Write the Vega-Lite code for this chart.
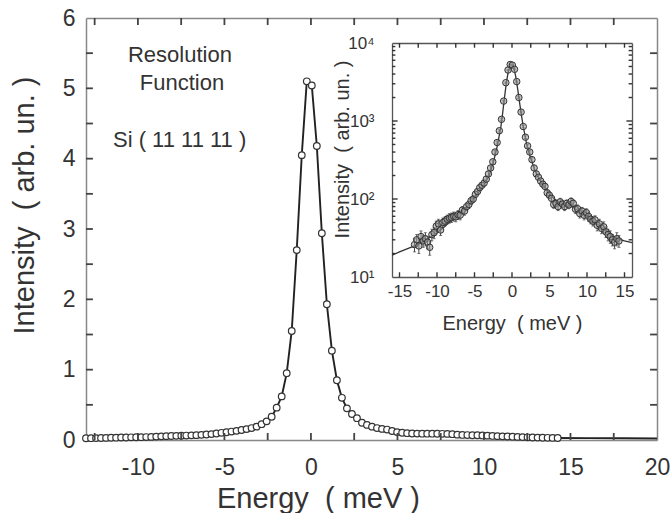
{
  "$schema": "https://vega.github.io/schema/vega-lite/v6.json",
  "width": 571,
  "height": 422,
  "autosize": "none",
  "padding": {"left": 86, "top": 18, "right": 13, "bottom": 73},
  "background": "white",
  "config": {
    "view": {"stroke": null},
    "font": "Liberation Sans",
    "axis": {"grid": false, "labelFont": "Liberation Sans", "titleFont": "Liberation Sans", "labelColor": "#333", "titleColor": "#333", "titleFontWeight": "normal", "labelFlush": false, "labelOverlap": false, "labelBound": false},
    "text": {"font": "Liberation Sans", "color": "#333"}
  },
  "datasets": {
    "pts": [
      {"x": -13.00, "y": 0.025, "c": 26, "e": 5},
      {"x": -12.71, "y": 0.026, "c": 30, "e": 5},
      {"x": -12.42, "y": 0.027, "c": 25, "e": 5},
      {"x": -12.13, "y": 0.029, "c": 33, "e": 6},
      {"x": -11.84, "y": 0.030, "c": 29, "e": 5},
      {"x": -11.55, "y": 0.032, "c": 31, "e": 6},
      {"x": -11.26, "y": 0.033, "c": 28, "e": 5},
      {"x": -10.97, "y": 0.035, "c": 24, "e": 5},
      {"x": -10.68, "y": 0.036, "c": 35, "e": 6},
      {"x": -10.39, "y": 0.038, "c": 37, "e": 6},
      {"x": -10.10, "y": 0.039, "c": 45, "e": 7},
      {"x": -9.81, "y": 0.040, "c": 48, "e": 7},
      {"x": -9.52, "y": 0.042, "c": 40, "e": 6},
      {"x": -9.23, "y": 0.044, "c": 50, "e": 7},
      {"x": -8.94, "y": 0.048, "c": 52, "e": 7},
      {"x": -8.65, "y": 0.052, "c": 55, "e": 7},
      {"x": -8.36, "y": 0.055, "c": 57, "e": 8},
      {"x": -8.07, "y": 0.057, "c": 58, "e": 8},
      {"x": -7.78, "y": 0.059, "c": 60, "e": 8},
      {"x": -7.49, "y": 0.061, "c": 59, "e": 8},
      {"x": -7.20, "y": 0.063, "c": 63, "e": 8},
      {"x": -6.91, "y": 0.066, "c": 62, "e": 8},
      {"x": -6.62, "y": 0.069, "c": 72, "e": 8},
      {"x": -6.33, "y": 0.073, "c": 70, "e": 8},
      {"x": -6.04, "y": 0.078, "c": 80, "e": 9},
      {"x": -5.75, "y": 0.084, "c": 85, "e": 9},
      {"x": -5.46, "y": 0.092, "c": 95, "e": 10},
      {"x": -5.17, "y": 0.102, "c": 100, "e": 10},
      {"x": -4.88, "y": 0.110, "c": 115, "e": 11},
      {"x": -4.59, "y": 0.120, "c": 125, "e": 11},
      {"x": -4.30, "y": 0.130, "c": 140, "e": 12},
      {"x": -4.01, "y": 0.142, "c": 150, "e": 12},
      {"x": -3.72, "y": 0.155, "c": 160, "e": 13},
      {"x": -3.43, "y": 0.170, "c": 180, "e": 13},
      {"x": -3.14, "y": 0.190, "c": 210, "e": 14},
      {"x": -2.85, "y": 0.225, "c": 250, "e": 16},
      {"x": -2.56, "y": 0.265, "c": 300, "e": 17},
      {"x": -2.27, "y": 0.33, "c": 400, "e": 20},
      {"x": -1.98, "y": 0.46, "c": 530, "e": 23},
      {"x": -1.69, "y": 0.62, "c": 750, "e": 27},
      {"x": -1.40, "y": 0.95, "c": 1050, "e": 32},
      {"x": -1.11, "y": 1.55, "c": 1800, "e": 42},
      {"x": -0.82, "y": 2.70, "c": 3100, "e": 56},
      {"x": -0.53, "y": 4.05, "c": 4500, "e": 67},
      {"x": -0.24, "y": 5.10, "c": 5300, "e": 73},
      {"x": 0.05, "y": 5.04, "c": 5200, "e": 72},
      {"x": 0.34, "y": 4.18, "c": 4600, "e": 68},
      {"x": 0.63, "y": 2.94, "c": 3200, "e": 57},
      {"x": 0.92, "y": 1.93, "c": 2000, "e": 45},
      {"x": 1.21, "y": 1.27, "c": 1300, "e": 36},
      {"x": 1.50, "y": 0.85, "c": 850, "e": 29},
      {"x": 1.79, "y": 0.60, "c": 620, "e": 25},
      {"x": 2.08, "y": 0.45, "c": 480, "e": 22},
      {"x": 2.37, "y": 0.37, "c": 400, "e": 20},
      {"x": 2.66, "y": 0.31, "c": 320, "e": 18},
      {"x": 2.95, "y": 0.245, "c": 250, "e": 16},
      {"x": 3.24, "y": 0.215, "c": 210, "e": 14},
      {"x": 3.53, "y": 0.19, "c": 190, "e": 14},
      {"x": 3.82, "y": 0.17, "c": 170, "e": 13},
      {"x": 4.11, "y": 0.158, "c": 155, "e": 12},
      {"x": 4.40, "y": 0.148, "c": 145, "e": 12},
      {"x": 4.69, "y": 0.128, "c": 120, "e": 11},
      {"x": 4.98, "y": 0.112, "c": 112, "e": 11},
      {"x": 5.27, "y": 0.103, "c": 102, "e": 10},
      {"x": 5.56, "y": 0.097, "c": 85, "e": 9},
      {"x": 5.85, "y": 0.093, "c": 88, "e": 9},
      {"x": 6.14, "y": 0.091, "c": 80, "e": 9},
      {"x": 6.43, "y": 0.090, "c": 92, "e": 10},
      {"x": 6.72, "y": 0.090, "c": 86, "e": 9},
      {"x": 7.01, "y": 0.090, "c": 80, "e": 9},
      {"x": 7.30, "y": 0.089, "c": 88, "e": 9},
      {"x": 7.59, "y": 0.088, "c": 84, "e": 9},
      {"x": 7.88, "y": 0.087, "c": 93, "e": 10},
      {"x": 8.17, "y": 0.083, "c": 88, "e": 9},
      {"x": 8.46, "y": 0.076, "c": 74, "e": 9},
      {"x": 8.75, "y": 0.072, "c": 75, "e": 9},
      {"x": 9.04, "y": 0.070, "c": 65, "e": 8},
      {"x": 9.33, "y": 0.068, "c": 70, "e": 8},
      {"x": 9.62, "y": 0.067, "c": 62, "e": 8},
      {"x": 9.91, "y": 0.065, "c": 67, "e": 8},
      {"x": 10.20, "y": 0.062, "c": 60, "e": 8},
      {"x": 10.49, "y": 0.058, "c": 55, "e": 7},
      {"x": 10.78, "y": 0.055, "c": 52, "e": 7},
      {"x": 11.07, "y": 0.052, "c": 54, "e": 7},
      {"x": 11.36, "y": 0.050, "c": 46, "e": 7},
      {"x": 11.65, "y": 0.047, "c": 48, "e": 7},
      {"x": 11.94, "y": 0.044, "c": 42, "e": 6},
      {"x": 12.23, "y": 0.041, "c": 44, "e": 7},
      {"x": 12.52, "y": 0.038, "c": 38, "e": 6},
      {"x": 12.81, "y": 0.036, "c": 35, "e": 6},
      {"x": 13.10, "y": 0.034, "c": 33, "e": 6},
      {"x": 13.39, "y": 0.032, "c": 30, "e": 5},
      {"x": 13.68, "y": 0.031, "c": 28, "e": 5},
      {"x": 13.97, "y": 0.030, "c": 31, "e": 6},
      {"x": 14.26, "y": 0.029, "c": 29, "e": 5}
    ],
    "ext": [
      {"x": 14.26, "y": 0.029},
      {"x": 16, "y": 0.026},
      {"x": 18, "y": 0.024},
      {"x": 20, "y": 0.022}
    ],
    "fit": [
      {"x": -16, "f": 19}, {"x": -15, "f": 21}, {"x": -14, "f": 23}, {"x": -13, "f": 25},
      {"x": -12, "f": 28}, {"x": -11, "f": 32}, {"x": -10, "f": 37}, {"x": -9, "f": 44},
      {"x": -8, "f": 54}, {"x": -7, "f": 65}, {"x": -6, "f": 80}, {"x": -5, "f": 103},
      {"x": -4.5, "f": 120}, {"x": -4, "f": 140}, {"x": -3.5, "f": 165}, {"x": -3, "f": 205},
      {"x": -2.5, "f": 290}, {"x": -2, "f": 460}, {"x": -1.5, "f": 820}, {"x": -1.25, "f": 1250},
      {"x": -1, "f": 2000}, {"x": -0.75, "f": 3100}, {"x": -0.5, "f": 4300}, {"x": -0.25, "f": 5100},
      {"x": 0, "f": 5300}, {"x": 0.25, "f": 4800}, {"x": 0.5, "f": 3700}, {"x": 0.75, "f": 2600},
      {"x": 1, "f": 1750}, {"x": 1.25, "f": 1200}, {"x": 1.5, "f": 850}, {"x": 2, "f": 480},
      {"x": 2.5, "f": 330}, {"x": 3, "f": 240}, {"x": 3.5, "f": 190}, {"x": 4, "f": 160},
      {"x": 4.5, "f": 138}, {"x": 5, "f": 115}, {"x": 6, "f": 93}, {"x": 7, "f": 86},
      {"x": 8, "f": 80}, {"x": 9, "f": 69}, {"x": 10, "f": 60}, {"x": 11, "f": 51},
      {"x": 12, "f": 43}, {"x": 13, "f": 36}, {"x": 14, "f": 31}, {"x": 15, "f": 29}, {"x": 16, "f": 27.5}
    ]
  },
  "layer": [
    {
      "layer": [
        {
          "data": {"name": "pts"},
          "mark": {"type": "line", "color": "#222", "strokeWidth": 1.9},
          "encoding": {
            "x": {"field": "x", "type": "quantitative", "scale": {"domain": [-13, 20], "nice": false, "zero": false},
              "axis": {"orient": "bottom", "values": [-10, -5, 0, 5, 10, 15, 20],
                "labelExpr": "'' + datum.value", "labelFontSize": 23, "labelPadding": 16,
                "ticks": false, "domainColor": "#888", "domainWidth": 1.5,
                "title": "Energy\u00a0\u00a0( meV )", "titleFontSize": 29, "titleX": 232, "titleY": 67, "titleBaseline": "alphabetic", "titleAlign": "center"}},
            "y": {"field": "y", "type": "quantitative", "scale": {"domain": [0, 6], "nice": false, "zero": false},
              "axis": {"orient": "left", "values": [0, 1, 2, 3, 4, 5, 6],
                "labelExpr": "'' + datum.value", "labelFontSize": 23, "labelPadding": 11,
                "ticks": false, "domainColor": "#888", "domainWidth": 1.5,
                "title": "Intensity\u00a0\u00a0( arb. un. )", "titleFontSize": 29, "titleX": -53, "titleY": 187, "titleAngle": -90, "titleBaseline": "alphabetic", "titleAlign": "center"}}
          }
        },
        {
          "data": {"name": "ext"},
          "mark": {"type": "line", "color": "#222", "strokeWidth": 1.9},
          "encoding": {
            "x": {"field": "x", "type": "quantitative", "axis": null},
            "y": {"field": "y", "type": "quantitative", "axis": null}
          }
        },
        {
          "data": {"name": "pts"},
          "mark": {"type": "point", "filled": false, "fill": "white", "fillOpacity": 1, "stroke": "#333", "strokeWidth": 1.2, "size": 44, "opacity": 1},
          "encoding": {
            "x": {"field": "x", "type": "quantitative",
              "axis": {"orient": "bottom", "offset": -422, "labels": false, "title": null, "ticks": false, "domainColor": "#888", "domainWidth": 1.5}},
            "y": {"field": "y", "type": "quantitative",
              "axis": {"orient": "left", "offset": -571, "labels": false, "title": null, "ticks": false, "domainColor": "#888", "domainWidth": 1.5}}
          }
        },
        {
          "data": {"values": [{"x": -12.5, "y": 0, "y2": 0.1}, {"x": -10, "y": 0, "y2": 0.1}, {"x": -7.5, "y": 0, "y2": 0.1}, {"x": -5, "y": 0, "y2": 0.1}, {"x": -2.5, "y": 0, "y2": 0.1}, {"x": 0, "y": 0, "y2": 0.1}, {"x": 2.5, "y": 0, "y2": 0.1}, {"x": 5, "y": 0, "y2": 0.1}, {"x": 7.5, "y": 0, "y2": 0.1}, {"x": 10, "y": 0, "y2": 0.1}, {"x": 12.5, "y": 0, "y2": 0.1}, {"x": 15, "y": 0, "y2": 0.1}, {"x": 17.5, "y": 0, "y2": 0.1},
            {"x": -12.5, "y": 6, "y2": 5.9}, {"x": -10, "y": 6, "y2": 5.9}, {"x": -7.5, "y": 6, "y2": 5.9}, {"x": -5, "y": 6, "y2": 5.9}, {"x": -2.5, "y": 6, "y2": 5.9}, {"x": 0, "y": 6, "y2": 5.9}, {"x": 2.5, "y": 6, "y2": 5.9}, {"x": 5, "y": 6, "y2": 5.9}, {"x": 7.5, "y": 6, "y2": 5.9}, {"x": 10, "y": 6, "y2": 5.9}, {"x": 12.5, "y": 6, "y2": 5.9}, {"x": 15, "y": 6, "y2": 5.9}, {"x": 17.5, "y": 6, "y2": 5.9}]},
          "mark": {"type": "rule", "color": "#444", "strokeWidth": 1.8},
          "encoding": {
            "x": {"field": "x", "type": "quantitative", "axis": null},
            "y": {"field": "y", "type": "quantitative", "axis": null},
            "y2": {"field": "y2"}
          }
        },
        {
          "data": {"values": [{"y": 0.5, "x": -13, "x2": -12.6}, {"y": 1, "x": -13, "x2": -12.6}, {"y": 1.5, "x": -13, "x2": -12.6}, {"y": 2, "x": -13, "x2": -12.6}, {"y": 2.5, "x": -13, "x2": -12.6}, {"y": 3, "x": -13, "x2": -12.6}, {"y": 3.5, "x": -13, "x2": -12.6}, {"y": 4, "x": -13, "x2": -12.6}, {"y": 4.5, "x": -13, "x2": -12.6}, {"y": 5, "x": -13, "x2": -12.6}, {"y": 5.5, "x": -13, "x2": -12.6},
            {"y": 0.5, "x": 20, "x2": 19.6}, {"y": 1, "x": 20, "x2": 19.6}, {"y": 1.5, "x": 20, "x2": 19.6}, {"y": 2, "x": 20, "x2": 19.6}, {"y": 2.5, "x": 20, "x2": 19.6}, {"y": 3, "x": 20, "x2": 19.6}, {"y": 3.5, "x": 20, "x2": 19.6}, {"y": 4, "x": 20, "x2": 19.6}, {"y": 4.5, "x": 20, "x2": 19.6}, {"y": 5, "x": 20, "x2": 19.6}, {"y": 5.5, "x": 20, "x2": 19.6}]},
          "mark": {"type": "rule", "color": "#444", "strokeWidth": 1.8},
          "encoding": {
            "x": {"field": "x", "type": "quantitative", "axis": null},
            "x2": {"field": "x2"},
            "y": {"field": "y", "type": "quantitative", "axis": null}
          }
        },
        {
          "data": {"values": [{}]},
          "mark": {"type": "text", "text": "Resolution", "fontSize": 22, "align": "center", "baseline": "middle"},
          "encoding": {
            "x": {"datum": -7.57, "type": "quantitative", "axis": null},
            "y": {"datum": 5.48, "type": "quantitative", "axis": null}
          }
        },
        {
          "data": {"values": [{}]},
          "mark": {"type": "text", "text": "Function", "fontSize": 22, "align": "center", "baseline": "middle"},
          "encoding": {
            "x": {"datum": -7.45, "type": "quantitative", "axis": null},
            "y": {"datum": 5.08, "type": "quantitative", "axis": null}
          }
        },
        {
          "data": {"values": [{}]},
          "mark": {"type": "text", "text": "Si ( 11 11 11 )", "fontSize": 22, "align": "left", "baseline": "middle"},
          "encoding": {
            "x": {"datum": -11.44, "type": "quantitative", "axis": null},
            "y": {"datum": 4.27, "type": "quantitative", "axis": null}
          }
        }
      ],
      "resolve": {"axis": {"x": "independent", "y": "independent"}}
    },
    {
      "layer": [
        {
          "data": {"name": "fit"},
          "mark": {"type": "line", "color": "#333", "strokeWidth": 1.3},
          "encoding": {
            "x": {"field": "x", "type": "quantitative", "scale": {"domain": [-16, 16], "nice": false, "zero": false, "range": [306, 546]},
              "axis": {"orient": "bottom", "offset": -163, "values": [-15, -10, -5, 0, 5, 10, 15],
                "labelExpr": "'' + datum.value", "labelFontSize": 17, "labelPadding": 6,
                "ticks": false, "domainColor": "#555", "domainWidth": 1.3,
                "title": "Energy\u00a0\u00a0( meV )", "titleFontSize": 20, "titleX": 426, "titleY": 52, "titleBaseline": "alphabetic", "titleAlign": "center"}},
            "y": {"field": "f", "type": "quantitative", "scale": {"type": "log", "domain": [10, 10000], "nice": false, "range": [259, 25]},
              "axis": {"orient": "left", "offset": -306, "values": [10, 100, 1000, 10000],
                "labelExpr": "datum.value == 10 ? '10¹' : datum.value == 100 ? '10²' : datum.value == 1000 ? '10³' : '10⁴'",
                "labelFontSize": 17, "labelPadding": 18,
                "ticks": false, "domainColor": "#555", "domainWidth": 1.3,
                "title": "Intensity\u00a0\u00a0( arb. un. )", "titleFontSize": 20, "titleX": -44, "titleY": 131, "titleAngle": -90, "titleBaseline": "alphabetic", "titleAlign": "center"}}
          }
        },
        {
          "data": {"name": "pts"},
          "mark": {"type": "errorbar", "ticks": {"size": 3, "color": "#444"}, "color": "#444"},
          "encoding": {
            "x": {"field": "x", "type": "quantitative", "axis": null},
            "y": {"field": "c", "type": "quantitative", "axis": null},
            "yError": {"field": "e"}
          }
        },
        {
          "data": {"name": "pts"},
          "mark": {"type": "point", "filled": false, "fill": "#999", "fillOpacity": 0.55, "stroke": "#333", "strokeWidth": 1, "size": 42, "opacity": 1},
          "encoding": {
            "x": {"field": "x", "type": "quantitative",
              "axis": {"orient": "bottom", "offset": -397, "labels": false, "title": null, "ticks": false, "domainColor": "#555", "domainWidth": 1.3}},
            "y": {"field": "c", "type": "quantitative",
              "axis": {"orient": "left", "offset": -546, "labels": false, "title": null, "ticks": false, "domainColor": "#555", "domainWidth": 1.3}}
          }
        },
        {
          "data": {"values": [{"x": -15, "c": 10, "c2": 11.5}, {"x": -12.5, "c": 10, "c2": 11.5}, {"x": -10, "c": 10, "c2": 11.5}, {"x": -7.5, "c": 10, "c2": 11.5}, {"x": -5, "c": 10, "c2": 11.5}, {"x": -2.5, "c": 10, "c2": 11.5}, {"x": 0, "c": 10, "c2": 11.5}, {"x": 2.5, "c": 10, "c2": 11.5}, {"x": 5, "c": 10, "c2": 11.5}, {"x": 7.5, "c": 10, "c2": 11.5}, {"x": 10, "c": 10, "c2": 11.5}, {"x": 12.5, "c": 10, "c2": 11.5}, {"x": 15, "c": 10, "c2": 11.5},
            {"x": -15, "c": 10000, "c2": 8700}, {"x": -12.5, "c": 10000, "c2": 8700}, {"x": -10, "c": 10000, "c2": 8700}, {"x": -7.5, "c": 10000, "c2": 8700}, {"x": -5, "c": 10000, "c2": 8700}, {"x": -2.5, "c": 10000, "c2": 8700}, {"x": 0, "c": 10000, "c2": 8700}, {"x": 2.5, "c": 10000, "c2": 8700}, {"x": 5, "c": 10000, "c2": 8700}, {"x": 7.5, "c": 10000, "c2": 8700}, {"x": 10, "c": 10000, "c2": 8700}, {"x": 12.5, "c": 10000, "c2": 8700}, {"x": 15, "c": 10000, "c2": 8700}]},
          "mark": {"type": "rule", "color": "#333", "strokeWidth": 1.4},
          "encoding": {
            "x": {"field": "x", "type": "quantitative", "axis": null},
            "y": {"field": "c", "type": "quantitative", "axis": null},
            "y2": {"field": "c2"}
          }
        },
        {
          "data": {"values": [{"c": 20, "x": -16, "x2": -15.55}, {"c": 30, "x": -16, "x2": -15.55}, {"c": 40, "x": -16, "x2": -15.55}, {"c": 50, "x": -16, "x2": -15.55}, {"c": 60, "x": -16, "x2": -15.55}, {"c": 70, "x": -16, "x2": -15.55}, {"c": 80, "x": -16, "x2": -15.55}, {"c": 90, "x": -16, "x2": -15.55}, {"c": 100, "x": -16, "x2": -15.25},
            {"c": 200, "x": -16, "x2": -15.55}, {"c": 300, "x": -16, "x2": -15.55}, {"c": 400, "x": -16, "x2": -15.55}, {"c": 500, "x": -16, "x2": -15.55}, {"c": 600, "x": -16, "x2": -15.55}, {"c": 700, "x": -16, "x2": -15.55}, {"c": 800, "x": -16, "x2": -15.55}, {"c": 900, "x": -16, "x2": -15.55}, {"c": 1000, "x": -16, "x2": -15.25},
            {"c": 2000, "x": -16, "x2": -15.55}, {"c": 3000, "x": -16, "x2": -15.55}, {"c": 4000, "x": -16, "x2": -15.55}, {"c": 5000, "x": -16, "x2": -15.55}, {"c": 6000, "x": -16, "x2": -15.55}, {"c": 7000, "x": -16, "x2": -15.55}, {"c": 8000, "x": -16, "x2": -15.55}, {"c": 9000, "x": -16, "x2": -15.55},
            {"c": 20, "x": 16, "x2": 15.55}, {"c": 30, "x": 16, "x2": 15.55}, {"c": 40, "x": 16, "x2": 15.55}, {"c": 50, "x": 16, "x2": 15.55}, {"c": 60, "x": 16, "x2": 15.55}, {"c": 70, "x": 16, "x2": 15.55}, {"c": 80, "x": 16, "x2": 15.55}, {"c": 90, "x": 16, "x2": 15.55}, {"c": 100, "x": 16, "x2": 15.25},
            {"c": 200, "x": 16, "x2": 15.55}, {"c": 300, "x": 16, "x2": 15.55}, {"c": 400, "x": 16, "x2": 15.55}, {"c": 500, "x": 16, "x2": 15.55}, {"c": 600, "x": 16, "x2": 15.55}, {"c": 700, "x": 16, "x2": 15.55}, {"c": 800, "x": 16, "x2": 15.55}, {"c": 900, "x": 16, "x2": 15.55}, {"c": 1000, "x": 16, "x2": 15.25},
            {"c": 2000, "x": 16, "x2": 15.55}, {"c": 3000, "x": 16, "x2": 15.55}, {"c": 4000, "x": 16, "x2": 15.55}, {"c": 5000, "x": 16, "x2": 15.55}, {"c": 6000, "x": 16, "x2": 15.55}, {"c": 7000, "x": 16, "x2": 15.55}, {"c": 8000, "x": 16, "x2": 15.55}, {"c": 9000, "x": 16, "x2": 15.55}]},
          "mark": {"type": "rule", "color": "#333", "strokeWidth": 1.4},
          "encoding": {
            "x": {"field": "x", "type": "quantitative", "axis": null},
            "x2": {"field": "x2"},
            "y": {"field": "c", "type": "quantitative", "axis": null}
          }
        }
      ],
      "resolve": {"axis": {"x": "independent", "y": "independent"}}
    }
  ],
  "resolve": {"scale": {"x": "independent", "y": "independent"}}
}
